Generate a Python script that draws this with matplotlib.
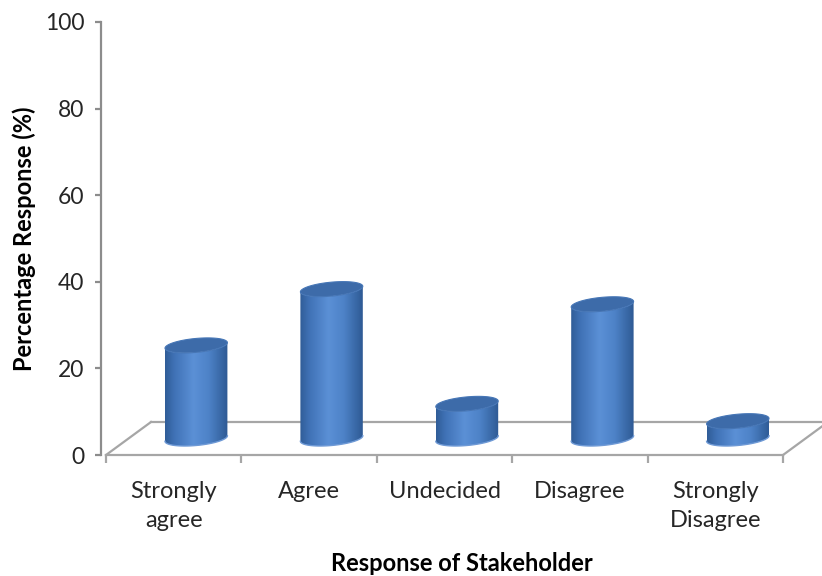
import matplotlib
matplotlib.use("Agg")
import matplotlib.pyplot as plt
import numpy as np
from matplotlib.patches import Polygon
from matplotlib.colors import LinearSegmentedColormap

categories = ["Strongly\nagree", "Agree", "Undecided", "Disagree", "Strongly\nDisagree"]
values = [21.5, 34.5, 8, 31, 4]
y_ticks = [0, 20, 40, 60, 80, 100]

plt.rcParams['font.family'] = ['Lato', 'DejaVu Sans']

fig = plt.figure(figsize=(8.22, 5.76), dpi=100)
ax = fig.add_axes([101/822, 121/576, 721/822, 433/576])

px_x = 135.4          # pixels per category
px_y = 433/100        # pixels per percent
ax.set_xlim(-0.5 - 5/px_x, 4.5 + 39/px_x)
ax.set_ylim(0, 100)

gray = "#8c8c8c"
# 3d floor
dx = 45/px_x
dy = 33/px_y
fl = dict(color="#a6a6a6", lw=1.6, clip_on=False, zorder=1)
ax.plot([-0.5, -0.5+dx], [0, dy], **fl)
ax.plot([-0.5+dx, 4.5+dx], [dy, dy], **fl)
ax.plot([4.5, 4.5+dx], [0, dy], **fl)

# cylinders
cmap = LinearSegmentedColormap.from_list("cyl", [
    (0.0, "#305d98"), (0.15, "#4072b6"), (0.45, "#5b90d6"),
    (0.7, "#4d82c7"), (1.0, "#2e5a94")])
grad = np.linspace(0, 1, 200).reshape(1, -1)
a = 29/px_x
b = 7.5/px_y
s = 0.085
th0 = np.arctan2(s, a)
base = dy/2
for i, v in enumerate(values):
    cx = i + dx/2
    top = base + v
    t_front = np.linspace(th0 + np.pi, th0 + 2*np.pi, 80)
    bx = cx + a*np.cos(t_front) + s*np.sin(t_front)
    by = base + b*np.sin(t_front)
    tx = bx[::-1]
    ty = top + b*np.sin(t_front[::-1])
    body = Polygon(np.column_stack([np.r_[bx, tx], np.r_[by, ty]]),
                   closed=True, fc="none", ec="none", zorder=3)
    ax.add_patch(body)
    w = np.hypot(a, s)
    im = ax.imshow(grad, cmap=cmap, aspect="auto", zorder=3,
                   extent=[cx - w, cx + w, base - b, top + b])
    im.set_clip_path(body)
    # soft rim at the bottom
    ax.plot(bx, by, color="#6f9ad6", lw=1.0, zorder=4)
    t = np.linspace(0, 2*np.pi, 120)
    ex = cx + a*np.cos(t) + s*np.sin(t)
    ey = top + b*np.sin(t)
    ax.add_patch(Polygon(np.column_stack([ex, ey]), closed=True,
                         fc="#3d6ba9", ec="#4676b6", lw=0.8, zorder=5))

# axes styling
for sp in ["top", "right"]:
    ax.spines[sp].set_visible(False)
ax.spines["left"].set_color(gray)
ax.spines["left"].set_linewidth(1.6)
ax.spines["bottom"].set_color("#a6a6a6")
ax.spines["bottom"].set_linewidth(1.6)
ax.spines["bottom"].set_bounds(-0.5, 4.5)

ax.set_yticks(y_ticks)
ax.tick_params(axis="y", direction="out", length=4, width=1.6, color=gray,
               labelsize=16.5, labelcolor="#262626", pad=8)
ax.set_xticks(np.arange(-0.5, 5, 1))
ax.set_xticklabels([])
ax.tick_params(axis="x", which="major", direction="out", length=6, width=1.6,
               color="#a6a6a6")
ax.set_xticks(range(5), minor=True)
ax.set_xticklabels(categories, minor=True, fontsize=17, color="#262626",
                   linespacing=1.45)
ax.tick_params(axis="x", which="minor", length=0, pad=19)

ax.set_ylabel("Percentage Response (%)", fontsize=17, fontweight="bold",
              labelpad=6)
ax.set_xlabel("Response of Stakeholder", fontsize=17, fontweight="bold",
              labelpad=15)

fig.savefig("out.png", dpi=100)
